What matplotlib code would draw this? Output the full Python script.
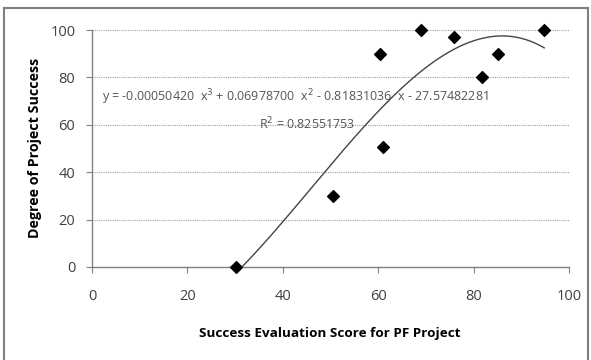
import numpy as np
import matplotlib
matplotlib.use("Agg")
import matplotlib.pyplot as plt
from matplotlib.patches import Rectangle

x_vals = [30.2, 50.5, 60.4, 61.0, 69.0, 75.9, 81.8, 85.1, 94.8]
y_vals = [0, 30, 90, 50.5, 100, 97, 80, 90, 100]
coefs = [-0.00050420, 0.06978700, -0.81831036, -27.57482281]
x_ticks = [0, 20, 40, 60, 80, 100]
y_ticks = [0, 20, 40, 60, 80, 100]

plt.rcParams['font.family'] = ['Open Sans', 'DejaVu Sans']

W, H = 591, 360
fig = plt.figure(figsize=(W/100, H/100), dpi=100)
fig.patches.append(Rectangle((4/W, -0.02), (588-4)/W, 1 - 8/H + 0.02, transform=fig.transFigure,
                             fill=False, edgecolor='#7f7f7f', linewidth=1.5))
ax = fig.add_axes([92/W, 1 - 267/H, (569-92)/W, (267-30)/H])
ax.set_xlim(0, 100)
ax.set_ylim(0, 100)
for yt in y_ticks[1:]:
    ax.axhline(yt, color='#a0a0a0', linestyle=(0, (1, 1)), linewidth=0.8, zorder=0)
xs = np.linspace(min(x_vals), max(x_vals), 300)
ys = np.polyval(coefs, xs)
ax.plot(xs, ys, color='#454545', linewidth=1.0, zorder=2)
ax.scatter(x_vals, y_vals, marker='D', s=36, color='black', zorder=3, clip_on=False)
for s in ['top', 'right']:
    ax.spines[s].set_visible(False)
for s in ['left', 'bottom']:
    ax.spines[s].set_color('#808080')
    ax.spines[s].set_linewidth(1.0)
ax.set_xticks(x_ticks)
ax.set_yticks(y_ticks)
ax.tick_params(axis='both', direction='out', length=4, color='#808080', labelsize=10.5, labelcolor='#404040')
ax.tick_params(axis='x', pad=12)
ax.tick_params(axis='y', pad=8)
fig.text(330/W, 1 - 333/H, 'Success Evaluation Score for PF Project', fontsize=9.7,
         fontweight='bold', ha='center', va='center')
fig.text(35/W, 1 - 148/H, 'Degree of Project Success', fontsize=10.3, rotation=90,
         fontweight='bold', ha='center', va='center')
ax.text(2, 71.5, r'y = -0.00050420  x$^3$ + 0.06978700  x$^2$ - 0.81831036  x - 27.57482281',
        fontsize=9, color='#555555', va='center', ha='left')
ax.text(45, 60.5, r'R$^2$ = 0.82551753', fontsize=9, color='#555555', va='center', ha='center')
fig.savefig('out.png', dpi=100)
